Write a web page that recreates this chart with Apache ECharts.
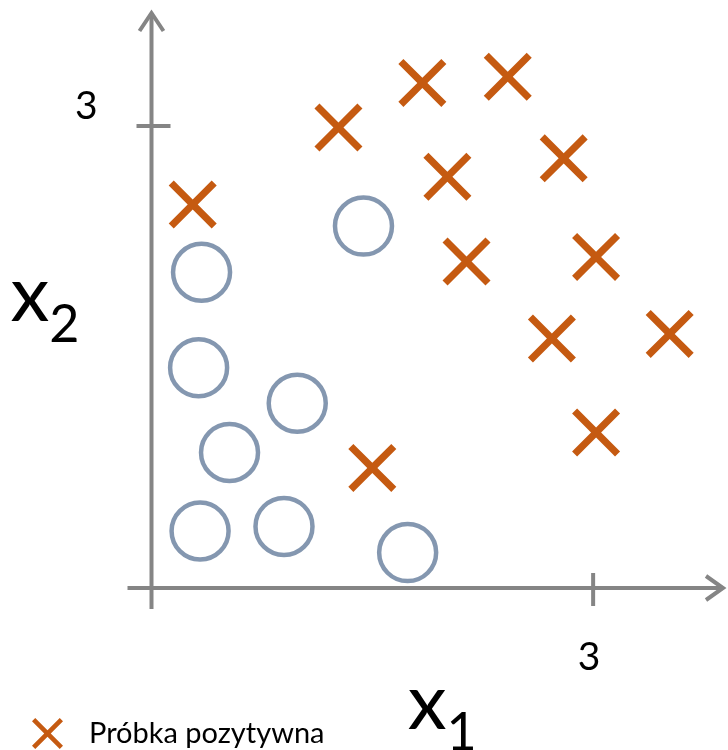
<!DOCTYPE html>
<html>
<head>
<meta charset="utf-8">
<title>Próbki w przestrzeni cech</title>
<script src="https://cdn.jsdelivr.net/npm/echarts@6/dist/echarts.min.js"></script>
<style>
  html, body { margin: 0; padding: 0; background: #fff; }
  #chart { width: 728px; height: 750px; }
</style>
</head>
<body>
<div id="chart"></div>
<script>
// Positive samples (x1, x2)
const positiveX1 = [0.28, 1.27, 1.84, 2.42, 2.01, 2.80, 2.14, 3.02, 2.72, 3.52, 3.02, 1.50];
const positiveX2 = [2.49, 2.99, 3.28, 3.32, 2.67, 2.79, 2.12, 2.15, 1.62, 1.65, 1.01, 0.78];
// Negative samples (x1, x2)
const negativeX1 = [0.34, 1.44, 0.32, 0.99, 0.53, 0.33, 0.90, 1.74];
const negativeX2 = [2.05, 2.35, 1.43, 1.20, 0.88, 0.37, 0.40, 0.23];
// Labelled tick on each axis
const tickValue = 3;
const tickLabels = ['3'];
const positiveName = 'Próbka pozytywna';

const FONT = 'Lato, "Open Sans", sans-serif';
const AXIS_COLOR = '#858585';
const ORANGE = '#C55A11';
const BLUE = '#8497B0';

// Thick diagonal cross, drawn as a filled outline
const a = 10.5;
const crossPath = 'path://M0,' + a + 'L' + a + ',0L50,' + (50 - a) + 'L' + (100 - a) + ',0L100,' + a +
  'L' + (50 + a) + ',50L100,' + (100 - a) + 'L' + (100 - a) + ',100L50,' + (50 + a) +
  'L' + a + ',100L0,' + (100 - a) + 'L' + (50 - a) + ',50Z';

const pairs = (xs, ys) => xs.map((v, i) => [v, ys[i]]);

const nameRich = {
  x: { fontFamily: FONT, fontSize: 78, color: '#000', lineHeight: 80, verticalAlign: 'top' },
  s: { fontFamily: FONT, fontSize: 52, color: '#000', lineHeight: 94, verticalAlign: 'bottom' }
};

const chart = echarts.init(document.getElementById('chart'), null, { renderer: 'canvas' });

chart.setOption({
  animation: false,
  backgroundColor: '#fff',
  grid: { left: 151.5, right: 17.1, top: 33.6, bottom: 162, containLabel: false, outerBoundsMode: 'none' },
  legend: {
    data: [{ name: positiveName, icon: crossPath }],
    left: 32, top: 718, padding: 0,
    itemWidth: 31, itemHeight: 31,
    textStyle: { fontFamily: FONT, fontSize: 29, color: '#000', padding: [0, 0, 0, 21] }
  },
  xAxis: {
    type: 'value', min: 0, max: 3.8, interval: 1,
    axisLine: { show: false }, axisTick: { show: false }, splitLine: { show: false },
    axisLabel: {
      formatter: v => (v === tickValue ? tickLabels[0] : ''),
      margin: 50, fontFamily: FONT, fontSize: 39, color: '#000', showMaxLabel: false,
      padding: [0, 8, 0, 0]
    },
    name: '{x|x}{s|1}', nameLocation: 'middle', nameGap: 77, nameMoveOverlap: false,
    nameTextStyle: { padding: [0, 0, 0, 22], rich: nameRich }
  },
  yAxis: {
    type: 'value', min: 0, max: 3.6, interval: 1,
    axisLine: { show: false }, axisTick: { show: false }, splitLine: { show: false },
    axisLabel: {
      formatter: v => (v === tickValue ? tickLabels[0] : ''),
      margin: 54, fontFamily: FONT, fontSize: 39, color: '#000',
      verticalAlign: 'bottom', showMaxLabel: false
    },
    name: '{x|x}{s|2}', nameLocation: 'middle', nameGap: 72, nameRotate: 0, nameMoveOverlap: false,
    nameTextStyle: { padding: [0, 0, 13, 0], rich: nameRich }
  },
  series: [
    {
      name: positiveName, type: 'scatter', symbol: crossPath, symbolSize: 48,
      itemStyle: { color: ORANGE, opacity: 1 },
      data: pairs(positiveX1, positiveX2), z: 3
    },
    {
      name: 'Próbka negatywna', type: 'scatter', symbol: 'circle', symbolSize: 57,
      itemStyle: { color: 'rgba(255,255,255,0)', borderColor: BLUE, borderWidth: 4.5, opacity: 1 },
      data: pairs(negativeX1, negativeX2), z: 3
    }
  ]
});

// Crossed axes with open arrowheads and the crossing tick marks, placed from the grid's scales
const o = chart.convertToPixel({ gridIndex: 0 }, [0, 0]);
const tx = chart.convertToPixel({ gridIndex: 0 }, [tickValue, 0]);
const ty = chart.convertToPixel({ gridIndex: 0 }, [0, tickValue]);
const lineStyle = { stroke: AXIS_COLOR, lineWidth: 4, fill: null, lineCap: 'butt', lineJoin: 'miter' };
const xEnd = 723, yEnd = 13;

chart.setOption({
  graphic: [
    { type: 'line', shape: { x1: o[0] - 24, y1: o[1], x2: xEnd, y2: o[1] }, style: lineStyle, z: 1 },
    { type: 'line', shape: { x1: o[0], y1: o[1] + 21, x2: o[0], y2: yEnd }, style: lineStyle, z: 1 },
    { type: 'polyline', shape: { points: [[xEnd - 17, o[1] - 12], [xEnd, o[1]], [xEnd - 17, o[1] + 12]] }, style: lineStyle, z: 1 },
    { type: 'polyline', shape: { points: [[o[0] - 12, yEnd + 18], [o[0], yEnd], [o[0] + 12, yEnd + 18]] }, style: lineStyle, z: 1 },
    { type: 'line', shape: { x1: tx[0], y1: o[1] - 15, x2: tx[0], y2: o[1] + 18 }, style: lineStyle, z: 1 },
    { type: 'line', shape: { x1: o[0] - 15, y1: ty[1], x2: o[0] + 19, y2: ty[1] }, style: lineStyle, z: 1 }
  ]
});
</script>
</body>
</html>
